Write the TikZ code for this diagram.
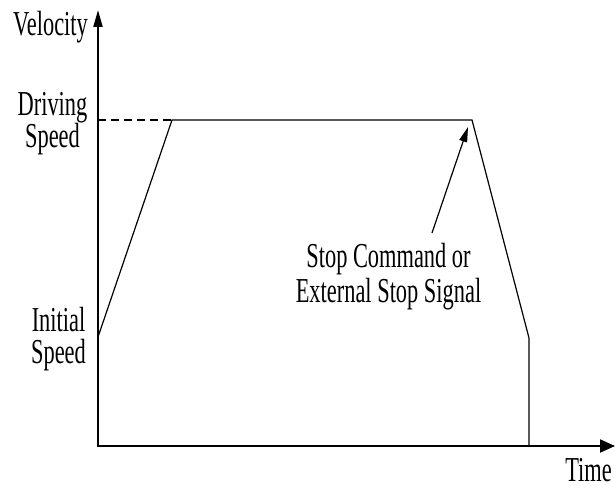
\documentclass[tikz,border=0pt]{standalone}
\usepackage{fontspec}
\usepackage{graphicx}
\setmainfont{Liberation Serif}
\usetikzlibrary{arrows.meta}
\begin{document}
\begin{tikzpicture}[x=1pt,y=-1pt,
  lbl/.style={font=\fontsize{35}{35}\selectfont, anchor=base, inner sep=0pt, text height=23pt, text depth=5pt},
  axisline/.style={line width=2pt, {Triangle[length=17pt,width=9pt]}-{Triangle[length=15pt,width=13pt]}},
  profile/.style={line width=1.2pt, line join=miter},
  pointer/.style={line width=1.2pt, -{Triangle[length=15pt,width=8pt]}},
  dashedline/.style={line width=1.2pt, dash pattern=on 8pt off 5pt}]
\useasboundingbox (0,0) rectangle (615,489);
% coordinates
\coordinate (O) at (98,446);
\coordinate (ytop) at (98,10);
\coordinate (xend) at (615,446);
\coordinate (init) at (98,337);
\coordinate (dsl) at (98,120);
\coordinate (rampTop) at (172,120);
\coordinate (flatEnd) at (472,120);
\coordinate (kink) at (529,338);
\coordinate (stopEnd) at (529,446);
\coordinate (arrTail) at (432,233);
\coordinate (arrTip) at (468,127);
% axes
\draw[axisline] (ytop) -- (O) -- (xend);
% profile
\draw[dashedline] (dsl) -- (rampTop);
\draw[profile] (init) -- (rampTop) -- (flatEnd) -- (kink) -- (stopEnd);
\draw[pointer] (arrTail) -- (arrTip);
% labels
\node[lbl] (vel) at (50.5,36) {\scalebox{0.64}[1]{Velocity}};
\node[lbl] (drv1) at (52.5,116) {\scalebox{0.64}[1]{Driving}};
\node[lbl] (drv2) at (52.5,148) {\scalebox{0.64}[1]{Speed}};
\node[lbl] (ini1) at (58.5,331) {\scalebox{0.64}[1]{Initial}};
\node[lbl] (ini2) at (58.5,363.5) {\scalebox{0.64}[1]{Speed}};
\node[lbl] (stp1) at (388.5,267) {\scalebox{0.64}[1]{Stop Command or}};
\node[lbl] (stp2) at (388.5,302) {\scalebox{0.64}[1]{External Stop Signal}};
\node[lbl] (time) at (588.5,481) {\scalebox{0.64}[1]{Time}};
\end{tikzpicture}
\end{document}
